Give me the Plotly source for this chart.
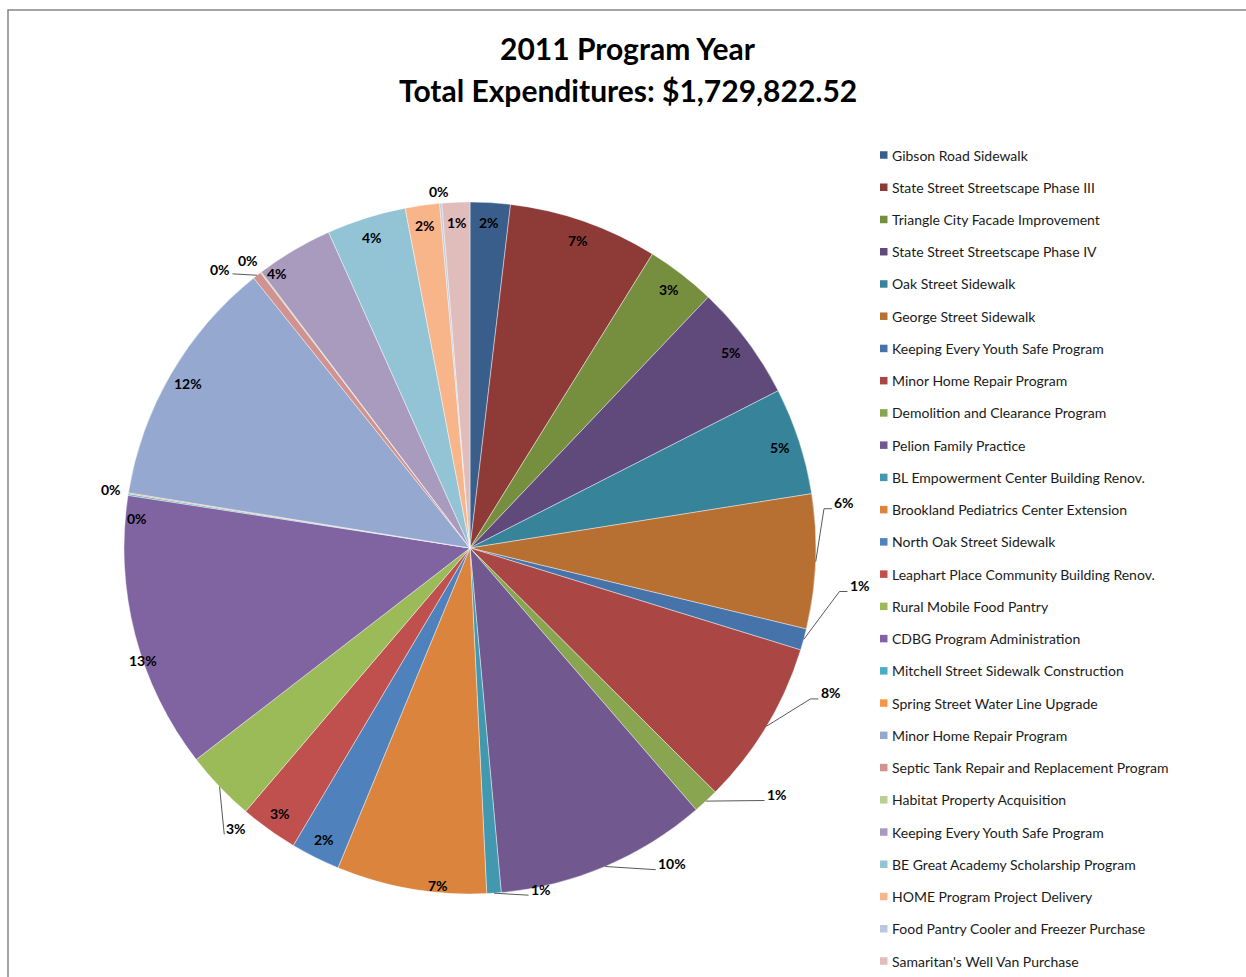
import math
import plotly.graph_objects as go

# ---- data -------------------------------------------------------------
programs = [
    "Gibson Road Sidewalk",
    "State Street Streetscape Phase III",
    "Triangle City Facade Improvement",
    "State Street Streetscape Phase IV",
    "Oak Street Sidewalk",
    "George Street Sidewalk",
    "Keeping Every Youth Safe Program",
    "Minor Home Repair Program",
    "Demolition and Clearance Program",
    "Pelion Family Practice",
    "BL Empowerment Center Building Renov.",
    "Brookland Pediatrics Center Extension",
    "North Oak Street Sidewalk",
    "Leaphart Place Community Building Renov.",
    "Rural Mobile Food Pantry",
    "CDBG Program Administration",
    "Mitchell Street Sidewalk Construction",
    "Spring Street Water Line Upgrade",
    "Minor Home Repair Program",
    "Septic Tank Repair and Replacement Program",
    "Habitat Property Acquisition",
    "Keeping Every Youth Safe Program",
    "BE Great Academy Scholarship Program",
    "HOME Program Project Delivery",
    "Food Pantry Cooler and Freezer Purchase",
    "Samaritan's Well Van Purchase",
]

expenditures = [
    32350, 120560, 56220, 93410, 86490, 108460,
    17300, 133200, 20760, 171250, 11590, 121090,
    39790, 46710, 57080, 223150, 1210, 860,
    202390, 6920, 860, 62270, 64000, 27680,
    1730, 22490,
]

title_lines = ["2011 Program Year", "Total Expenditures: $1,729,822.52"]

# ---- styling ----------------------------------------------------------
slice_colors = [
    "#3A5E8C", "#8E3B38", "#768F3F", "#604A7B", "#37839A", "#B86F32",
    "#4673A9", "#AA4744", "#8AA54F", "#71588F", "#4198AF", "#DB843D",
    "#4F81BD", "#C0504D", "#9BBB59", "#8064A2", "#4BACC6", "#F79646",
    "#95A9D0", "#D09392", "#B9CD96", "#A99BBD", "#93C4D6", "#F9B58A",
    "#B9C8E1", "#E0BCBB",
]

W, H = 1246, 977
CX, CY, R = 470, 548, 346          # pie centre and radius in pixels
FONT = "Lato, 'Open Sans', sans-serif"
LABEL_SIZE = 14
LEADER_COLOR = "#595959"

# label placement: index -> (angle deg clockwise from 12, radius as fraction of R,
#                            leader side or None, elbow length px)
label_place = {
    5: (83.1, 1.089, "r", 8),
    6: (95.5, 1.131, "r", 8),
    7: (111.9, 1.123, "r", 8),
    8: (128.8, 1.137, "r", 0),
    9: (147.4, 1.083, "r", 0),
    10: (168.3, 1.007, "r", 0),
    11: (185.5, 0.98, None, 0),
    14: (219.8, 1.055, "r", 0),
    15: (251.0, 1.0, None, 0),
    16: (279.3, 1.05, None, 0),
    17: (275.0, 0.965, None, 0),
    19: (318.1, 1.08, "l", 0),
    20: (322.4, 1.05, None, 0),
    21: (325.0, 0.97, None, 0),
    24: (355.0, 1.035, None, 0),
}
INSIDE_INSET = 20                  # px from the rim for default inside labels

# legend layout (pixels)
LEG_X, LEG_Y0, LEG_DY, LEG_SQ = 880, 155, 32.24, 7.5


def to_paper(px, py):
    return px / W, 1 - py / H


def polar(angle_deg, r_px):
    a = math.radians(angle_deg)
    return CX + r_px * math.sin(a), CY - r_px * math.cos(a)


def text_width(s):
    w = 0.0
    for ch in s:
        w += 0.86 if ch == "%" else 0.58
    return w * LABEL_SIZE


total = sum(expenditures)
pct_text = [f"{int(math.floor(v / total * 100 + 0.5))}%" for v in expenditures]

fig = go.Figure()

fig.add_trace(go.Pie(
    labels=[f"{i + 1}. {p}" for i, p in enumerate(programs)],
    values=expenditures,
    sort=False,
    direction="clockwise",
    rotation=0,
    marker=dict(colors=slice_colors, line=dict(color="rgba(255,255,255,0.7)", width=0.6)),
    textinfo="none",
    hovertemplate="%{label}<br>$%{value:,.2f}<br>%{percent}<extra></extra>",
    showlegend=False,
    domain=dict(
        x=[(CX - R) / W, (CX + R) / W],
        y=[1 - (CY + R) / H, 1 - (CY - R) / H],
    ),
))

annotations = []
shapes = []

# percentage labels and leader lines
cum = 0.0
for i, v in enumerate(expenditures):
    mid = (cum + v / 2) / total * 360
    cum += v
    txt = pct_text[i]
    if i in label_place:
        ang, rho, side, elbow = label_place[i]
        tx, ty = polar(ang, rho * R)
    else:
        side, elbow = None, 0
        tx, ty = polar(mid, R - INSIDE_INSET)
    x, y = to_paper(tx, ty)
    annotations.append(dict(
        x=x, y=y, xref="paper", yref="paper", text=f"<b>{txt}</b>",
        showarrow=False, xanchor="center", yanchor="middle",
        font=dict(family=FONT, size=LABEL_SIZE, color="#000000"),
    ))
    if side:
        sx, sy = polar(mid, R)
        w = text_width(txt)
        if side == "r":
            ex, ey = tx - w / 2 - 2, ty + 6
            bx = ex - elbow
        else:
            ex, ey = tx + w / 2 + 2, ty + 4
            bx = ex + elbow
        pts = [to_paper(sx, sy), to_paper(bx, ey), to_paper(ex, ey)]
        path = "M {} {} L {} {} L {} {}".format(*[c for p in pts for c in p])
        shapes.append(dict(type="path", xref="paper", yref="paper", path=path,
                           line=dict(color=LEADER_COLOR, width=1)))

# legend built from the program list
for i, (name, col) in enumerate(zip(programs, slice_colors)):
    yc = LEG_Y0 + i * LEG_DY
    x0, y0 = to_paper(LEG_X, yc - LEG_SQ / 2)
    x1, y1 = to_paper(LEG_X + LEG_SQ, yc + LEG_SQ / 2)
    shapes.append(dict(type="rect", xref="paper", yref="paper",
                       x0=x0, x1=x1, y0=y1, y1=y0,
                       fillcolor=col, line=dict(width=0)))
    lx, ly = to_paper(LEG_X + LEG_SQ + 2, yc)
    annotations.append(dict(
        x=lx, y=ly, xref="paper", yref="paper", text=name, showarrow=False,
        xanchor="left", yanchor="middle",
        font=dict(family=FONT, size=14, color="#1a1a1a"),
    ))

# title
for line, ypx in zip(title_lines, [48, 90]):
    tx, ty = to_paper(628, ypx)
    annotations.append(dict(
        x=tx, y=ty, xref="paper", yref="paper", text=f"<b>{line}</b>",
        showarrow=False, xanchor="center", yanchor="middle",
        font=dict(family=FONT, size=30, color="#000000"),
    ))

# chart-area border
bx0, by0 = to_paper(8, 10)
shapes.append(dict(type="rect", xref="paper", yref="paper",
                   x0=bx0, x1=1.05, y0=-0.05, y1=by0,
                   line=dict(color="#868686", width=1.5), fillcolor="rgba(0,0,0,0)"))

fig.update_layout(
    width=W, height=H,
    margin=dict(l=0, r=0, t=0, b=0),
    paper_bgcolor="#FFFFFF",
    plot_bgcolor="#FFFFFF",
    annotations=annotations,
    shapes=shapes,
    showlegend=False,
)

fig.write_html("out.html")
